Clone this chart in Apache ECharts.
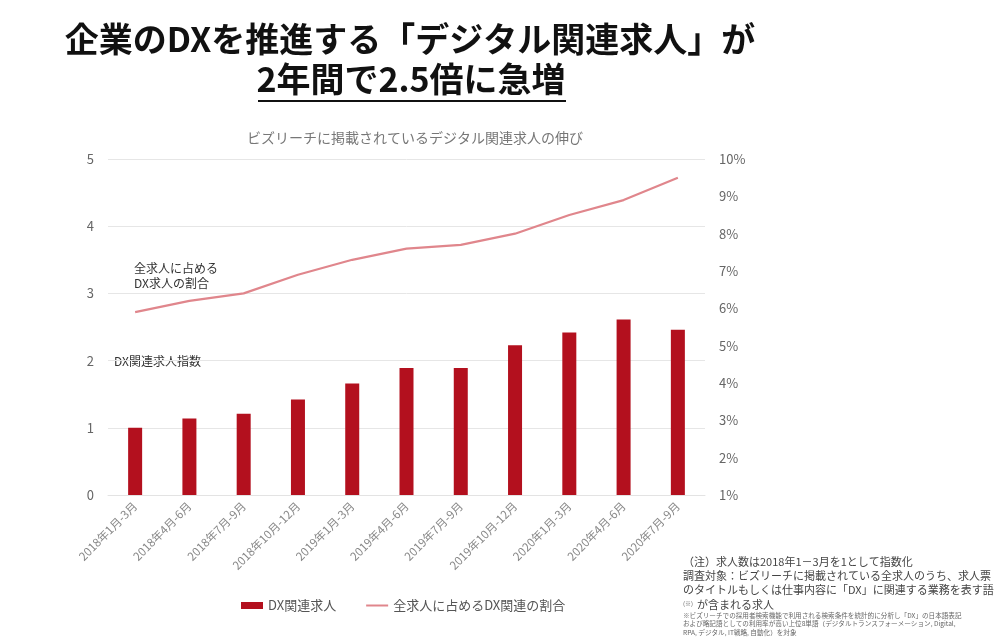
<!DOCTYPE html>
<html>
<head>
<meta charset="utf-8">
<script src="https://cdn.jsdelivr.net/npm/echarts@6/dist/echarts.min.js"></script>
<style>
html,body{margin:0;padding:0;background:#fff;}
#chart{width:1000px;height:642px;}
</style>
</head>
<body>
<div id="chart"></div>
<script>
const categories = ['2018年1月-3月','2018年4月-6月','2018年7月-9月','2018年10月-12月','2019年1月-3月','2019年4月-6月','2019年7月-9月','2019年10月-12月','2020年1月-3月','2020年4月-6月','2020年7月-9月'];
const dxIndex = [1.00, 1.14, 1.21, 1.42, 1.66, 1.89, 1.89, 2.23, 2.42, 2.61, 2.46];
const dxShare = [5.9, 6.2, 6.4, 6.9, 7.3, 7.6, 7.7, 8.0, 8.5, 8.9, 9.5];
const leftTicks = {min: 0, max: 5, interval: 1};
const rightTicks = {min: 1, max: 10, interval: 1};
const seriesNames = ['DX関連求人', '全求人に占めるDX関連の割合'];
const titleLines = ['企業のDXを推進する「デジタル関連求人」が', '2年間で2.5倍に急増'];
const subtitle = 'ビズリーチに掲載されているデジタル関連求人の伸び';
const notes = [
  '（注）求人数は2018年1－3月を1として指数化',
  '調査対象：ビズリーチに掲載されている全求人のうち、求人票',
  'のタイトルもしくは仕事内容に「DX」に関連する業務を表す語',
  'が含まれる求人'
];
const smallNotes = [
  '※ビズリーチでの採用者検索機能で利用される検索条件を統計的に分析し「DX」の日本語表記',
  'および略記語としての利用率が高い上位8単語（デジタルトランスフォーメーション, Digital,',
  'RPA, デジタル, IT戦略, 自動化）を対象'
];

const FONT = '"Noto Sans CJK JP", "Noto Sans", sans-serif';
const chart = echarts.init(document.getElementById('chart'));

const graphics = [
  {type:'text', x:410, y:22, style:{text:titleLines[0], font:'bold 34px ' + FONT, fill:'#111', textAlign:'center'}},
  {type:'text', x:411, y:62, style:{text:titleLines[1], font:'bold 34px ' + FONT, fill:'#111', textAlign:'center'}},
  {type:'line', shape:{x1:258, y1:101, x2:566, y2:101}, style:{stroke:'#111', lineWidth:2}},
  {type:'text', x:134, y:262, style:{text:'全求人に占める', font:'12px ' + FONT, fill:'#333'}},
  {type:'text', x:134, y:277, style:{text:'DX求人の割合', font:'12px ' + FONT, fill:'#333'}},
  {type:'text', x:114, y:355, style:{text:'DX関連求人指数', font:'12px ' + FONT, fill:'#333'}}
];
notes.forEach((t, i) => {
  graphics.push({type:'text', x: i === 3 ? 697 : 683, y: 556 + i * 14.3, style:{text:t, font:'11px ' + FONT, fill:'#444'}});
});
graphics.push({type:'text', x:683, y:601, style:{text:'(※)', font:'6px ' + FONT, fill:'#666'}});
smallNotes.forEach((t, i) => {
  graphics.push({type:'text', x:683, y:612 + i * 8.6, style:{text:t, font:'6.6px ' + FONT, fill:'#666'}});
});

chart.setOption({
  animation: false,
  backgroundColor: '#fff',
  textStyle: {fontFamily: FONT},
  title: {
    text: subtitle, left: 410, textAlign: 'center', top: 126,
    textStyle: {fontSize: 14, fontWeight: 'normal', color: '#777', fontFamily: FONT}
  },
  grid: {left: 108, right: 295, top: 159, bottom: 147},
  legend: {
    left: 236, top: 594, itemWidth: 22, itemHeight: 7, itemGap: 30,
    textStyle: {fontSize: 13, color: '#555', fontFamily: FONT},
    data: [
      {name: seriesNames[0], icon: 'rect'},
      {name: seriesNames[1], icon: 'path://M0,0h22v2h-22z'}
    ]
  },
  xAxis: {
    type: 'category', data: categories,
    axisLine: {show: true, lineStyle: {color: '#e3e3e3'}},
    axisTick: {show: false},
    axisLabel: {rotate: 45, interval: 0, fontSize: 11.5, color: '#888', margin: 9, fontFamily: FONT}
  },
  yAxis: [
    {
      type: 'value', min: leftTicks.min, max: leftTicks.max, interval: leftTicks.interval,
      axisLine: {show: false}, axisTick: {show: false},
      axisLabel: {fontSize: 13, color: '#666', margin: 14, fontFamily: FONT},
      splitLine: {lineStyle: {color: '#e6e6e6'}}
    },
    {
      type: 'value', min: rightTicks.min, max: rightTicks.max, interval: rightTicks.interval,
      axisLine: {show: false}, axisTick: {show: false},
      axisLabel: {fontSize: 13, color: '#666', margin: 14, formatter: '{value}%', fontFamily: FONT},
      splitLine: {show: false}
    }
  ],
  series: [
    {
      name: seriesNames[0], type: 'bar', data: dxIndex, yAxisIndex: 0,
      barWidth: 14, itemStyle: {color: '#b3101e'}
    },
    {
      name: seriesNames[1], type: 'line', data: dxShare, yAxisIndex: 1,
      symbol: 'none', lineStyle: {color: '#e0868c', width: 2.2}, itemStyle: {color: '#e0868c'}
    }
  ],
  graphic: graphics
});
</script>
</body>
</html>
